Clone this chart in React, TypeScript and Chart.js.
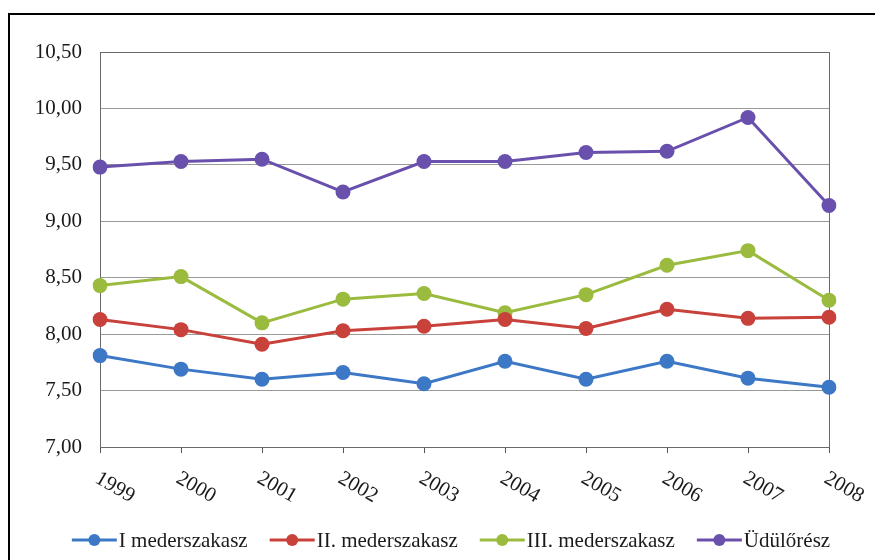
import React, { useEffect, useRef } from "react";
import { Chart, registerables } from "chart.js";

Chart.register(...registerables);

const years = ["1999", "2000", "2001", "2002", "2003", "2004", "2005", "2006", "2007", "2008"];
const seriesNames = ["I mederszakasz", "II. mederszakasz", "III. mederszakasz", "Üdülőrész"];
const reach1 = [7.81, 7.69, 7.6, 7.66, 7.56, 7.76, 7.6, 7.76, 7.61, 7.53];
const reach2 = [8.13, 8.04, 7.91, 8.03, 8.07, 8.13, 8.05, 8.22, 8.14, 8.15];
const reach3 = [8.43, 8.51, 8.1, 8.31, 8.36, 8.19, 8.35, 8.61, 8.74, 8.3];
const resort = [9.48, 9.53, 9.55, 9.26, 9.53, 9.53, 9.61, 9.62, 9.92, 9.14];
const colors = ["#3d78c6", "#c8413b", "#9bbb3f", "#6a50ad"];
const yMin = 7.0;
const yMax = 10.5;
const yStep = 0.5;

const FONT = '21px "Liberation Serif", "Times New Roman", serif';

const framePlugin = {
  id: "frame",
  beforeDraw(chart: any) {
    const ctx = chart.ctx;
    ctx.save();
    ctx.fillStyle = "#ffffff";
    ctx.fillRect(0, 0, chart.width, chart.height);
    ctx.strokeStyle = "#000000";
    ctx.lineWidth = 2;
    ctx.strokeRect(9, 14, 1000, 700);
    ctx.restore();
  },
  beforeDatasetsDraw(chart: any) {
    const ctx = chart.ctx;
    const a = chart.chartArea;
    ctx.save();
    ctx.strokeStyle = "#6a6a6a";
    ctx.lineWidth = 1;
    ctx.strokeRect(Math.round(a.left) + 0.5, Math.round(a.top) + 0.5, Math.round(a.right - a.left), Math.round(a.bottom - a.top));
    ctx.restore();
  },
  afterDraw(chart: any) {
    const ctx = chart.ctx;
    const xs = chart.scales.x;
    const a = chart.chartArea;
    ctx.save();
    ctx.font = FONT;
    ctx.fillStyle = "#1a1a1a";
    ctx.textAlign = "left";
    ctx.textBaseline = "top";
    years.forEach((lab, i) => {
      const x = xs.getPixelForTick(i);
      ctx.save();
      ctx.translate(x + 2, a.bottom + 21);
      ctx.rotate((30 * Math.PI) / 180);
      ctx.fillText(lab, 0, 0);
      ctx.restore();
    });
    // legend
    const ds = chart.data.datasets;
    const lineLen = 45;
    const gap = 22;
    const widths = ds.map((d: any) => ctx.measureText(d.label).width);
    const total = widths.reduce((s: number, w: number) => s + w + lineLen + 2, 0) + gap * (ds.length - 1);
    let x = 451 - total / 2;
    const y = 540;
    ctx.textBaseline = "middle";
    ds.forEach((d: any, i: number) => {
      ctx.strokeStyle = d.borderColor;
      ctx.lineWidth = 3;
      ctx.beginPath();
      ctx.moveTo(x, y);
      ctx.lineTo(x + lineLen, y);
      ctx.stroke();
      ctx.fillStyle = d.backgroundColor;
      ctx.beginPath();
      ctx.arc(x + lineLen / 2, y, 6, 0, Math.PI * 2);
      ctx.fill();
      ctx.fillStyle = "#1a1a1a";
      ctx.fillText(d.label, x + lineLen + 2, y + 1);
      x += lineLen + 2 + widths[i] + gap;
    });
    ctx.restore();
  },
};

export default function App() {
  const ref = useRef<HTMLCanvasElement | null>(null);
  useEffect(() => {
    if (!ref.current) return;
    const values = [reach1, reach2, reach3, resort];
    const chart = new Chart(ref.current, {
      type: "line",
      data: {
        labels: years,
        datasets: values.map((v, i) => ({
          label: seriesNames[i],
          data: v,
          borderColor: colors[i],
          backgroundColor: colors[i],
          pointBackgroundColor: colors[i],
          pointBorderColor: colors[i],
          borderWidth: 3,
          pointRadius: 7.5,
          pointBorderWidth: 0,
          tension: 0,
        })),
      },
      options: {
        responsive: false,
        animation: false,
        events: [],
        layout: { padding: { left: 0, top: 52, right: 46, bottom: 0 } },
        plugins: {
          legend: { display: false },
          tooltip: { enabled: false },
          title: { display: false },
        },
        scales: {
          x: {
            type: "category",
            offset: false,
            grid: {
              display: true,
              drawOnChartArea: false,
              drawTicks: true,
              tickLength: 6,
              color: "#555555",
            },
            border: { display: true, color: "#555555" },
            ticks: { display: false },
            afterFit(scale: any) {
              scale.height = 113;
            },
          },
          y: {
            min: yMin,
            max: yMax,
            grid: { color: "#9a9a9a", drawTicks: false, lineWidth: 1 },
            border: { display: true, color: "#555555" },
            ticks: {
              stepSize: yStep,
              padding: 18,
              color: "#1a1a1a",
              font: { family: '"Liberation Serif", "Times New Roman", serif', size: 21 },
              callback: (v: any) => Number(v).toFixed(2).replace(".", ","),
            },
            afterFit(scale: any) {
              scale.width = 100;
            },
          },
        },
      },
      plugins: [framePlugin],
    });
    return () => chart.destroy();
  }, []);
  return (
    <div style={{ position: "absolute", left: 0, top: 0, width: 875, height: 560 }}>
      <canvas ref={ref} width={875} height={560} style={{ display: "block" }} />
    </div>
  );
}
